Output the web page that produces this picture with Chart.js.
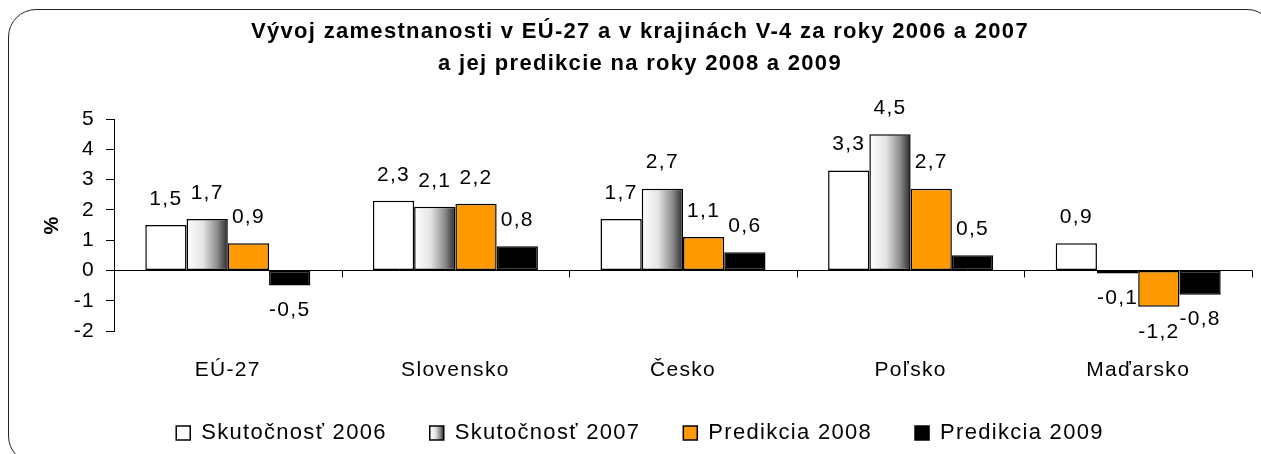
<!DOCTYPE html>
<html>
<head>
<meta charset="utf-8">
<script src="https://cdn.jsdelivr.net/npm/chart.js@4/dist/chart.umd.min.js"></script>
<style>
  html, body { margin: 0; padding: 0; background: #fff; overflow: hidden; }
  #frame {
    position: absolute; left: 8px; top: 9px; width: 1267px; height: 455px;
    border: 1.5px solid #222; border-radius: 28px; box-sizing: border-box;
  }
  #wrap { position: absolute; left: 0; top: 0; width: 1280px; height: 454px; }
</style>
</head>
<body>
<div id="frame"></div>
<div id="wrap"><canvas id="chart"></canvas></div>
<script>
// Data (%)
const categories = ['EÚ-27', 'Slovensko', 'Česko', 'Poľsko', 'Maďarsko'];
const seriesNames = ['Skutočnosť 2006', 'Skutočnosť 2007', 'Predikcia 2008', 'Predikcia 2009'];
const actual2006 = [1.5, 2.3, 1.7, 3.3, 0.9];
const actual2007 = [1.7, 2.1, 2.7, 4.5, -0.1];
const forecast2008 = [0.9, 2.2, 1.1, 2.7, -1.2];
const forecast2009 = [-0.5, 0.8, 0.6, 0.5, -0.8];
const yMin = -2;
const yMax = 5;
const titleLines = [
  'Vývoj zamestnanosti v EÚ-27 a v krajinách V-4 za roky 2006 a 2007',
  'a jej predikcie na roky 2008 a 2009'
];

const FONT = "'Liberation Sans', Arial, sans-serif";
const CAT_PCT = 0.725;
const ORANGE = '#FF9900';
const SPACING = '1.3px';

// decimal comma
const fmt = (v) => String(v).replace('.', ',');

// white -> dark grey horizontal gradient across one bar
const greyGradient = (ctx, left, width) => {
  const g = ctx.createLinearGradient(left, 0, left + width, 0);
  g.addColorStop(0, '#ffffff');
  g.addColorStop(0.4, '#e4e4e4');
  g.addColorStop(0.75, '#8a8a8a');
  g.addColorStop(1, '#2a2a2a');
  return g;
};

const barGradient = (c) => {
  const chart = c.chart;
  const xs = chart.scales.x;
  if (!xs || c.type !== 'data' || !isFinite(xs.width) || xs.width <= 0) return '#bbbbbb';
  const group = (xs.width / categories.length) * CAT_PCT;
  const bw = group / seriesNames.length;
  const left = xs.getPixelForValue(c.dataIndex) - group / 2 + bw * c.datasetIndex;
  if (!isFinite(left)) return '#bbbbbb';
  return greyGradient(chart.ctx, left, bw);
};

// the Excel text is a little spaced out
const textSpacing = {
  id: 'textSpacing',
  beforeLayout(chart) { chart.ctx.letterSpacing = SPACING; },
  beforeDraw(chart) { chart.ctx.letterSpacing = SPACING; }
};

// value labels above / below bars
const valueLabels = {
  id: 'valueLabels',
  afterDatasetsDraw(chart) {
    const { ctx } = chart;
    ctx.save();
    ctx.font = '21px ' + FONT;
    ctx.fillStyle = '#000';
    ctx.textAlign = 'center';
    ctx.textBaseline = 'middle';
    chart.data.datasets.forEach((ds, di) => {
      chart.getDatasetMeta(di).data.forEach((bar, i) => {
        const v = ds.data[i];
        const y = v >= 0 ? bar.y - 26 : bar.y + 25;
        ctx.fillText(fmt(v), bar.x, y);
      });
    });
    ctx.restore();
  }
};

// zero line tick marks at category boundaries + legend gradient box
const axisExtras = {
  id: 'axisExtras',
  beforeDraw(chart) {
    const lg = chart.legend;
    if (lg && lg.legendHitBoxes && lg.legendHitBoxes[1]) {
      const hb = lg.legendHitBoxes[1];
      lg.legendItems[1].fillStyle = greyGradient(chart.ctx, hb.left, lg.options.labels.boxWidth);
    }
  },
  afterDatasetsDraw(chart) {
    const { ctx } = chart;
    const xs = chart.scales.x;
    const y0 = chart.scales.y.getPixelForValue(0);
    const step = xs.width / categories.length;
    ctx.save();
    ctx.strokeStyle = '#000';
    ctx.lineWidth = 1;
    ctx.beginPath();
    for (let i = 1; i <= categories.length; i++) {
      const x = Math.round(xs.left + step * i) + 0.5;
      ctx.moveTo(x, y0);
      ctx.lineTo(x, y0 + 7);
    }
    ctx.stroke();
    ctx.restore();
  }
};

const datasetStyle = (label, data, bg) => ({
  label,
  data,
  backgroundColor: bg,
  borderColor: '#000',
  borderWidth: 1.5,
  borderSkipped: false,
  barPercentage: 1,
  categoryPercentage: CAT_PCT
});

new Chart(document.getElementById('chart'), {
  type: 'bar',
  data: {
    labels: categories,
    datasets: [
      datasetStyle(seriesNames[0], actual2006, '#ffffff'),
      datasetStyle(seriesNames[1], actual2007, barGradient),
      datasetStyle(seriesNames[2], forecast2008, ORANGE),
      datasetStyle(seriesNames[3], forecast2009, '#000000')
    ]
  },
  options: {
    responsive: true,
    maintainAspectRatio: false,
    animation: false,
    layout: { padding: { left: 28, right: 28, top: 0, bottom: 0 } },
    plugins: {
      title: {
        display: true,
        text: titleLines,
        color: '#000',
        font: { family: FONT, size: 22, weight: 'bold', lineHeight: 32 / 22 },
        padding: { top: 16, bottom: 39 }
      },
      legend: {
        position: 'bottom',
        labels: {
          color: '#000',
          font: { family: FONT, size: 22 },
          boxWidth: 14,
          boxHeight: 14,
          padding: 43
        }
      },
      tooltip: { enabled: false }
    },
    scales: {
      x: {
        afterFit: (s) => { s.height = 48; },
        grid: { display: false, drawTicks: false },
        border: { display: false },
        ticks: { color: '#000', font: { family: FONT, size: 21 }, padding: 27 }
      },
      y: {
        min: yMin,
        max: yMax,
        afterFit: (s) => { s.width = 86; },
        ticks: {
          stepSize: 1,
          autoSkip: false,
          color: '#000',
          padding: 11,
          font: { family: FONT, size: 21 },
          callback: (v) => fmt(v)
        },
        grid: {
          drawOnChartArea: true,
          tickLength: 8,
          tickColor: '#000',
          color: (c) => (c.tick && c.tick.value === 0 ? '#000' : 'rgba(0,0,0,0)')
        },
        border: { display: true, color: '#000', width: 1 },
        title: {
          display: true,
          text: '%',
          color: '#000',
          font: { family: FONT, size: 20, weight: 'bold' },
          padding: { top: 12, bottom: 0 }
        }
      }
    }
  },
  plugins: [textSpacing, valueLabels, axisExtras]
});
</script>
</body>
</html>
